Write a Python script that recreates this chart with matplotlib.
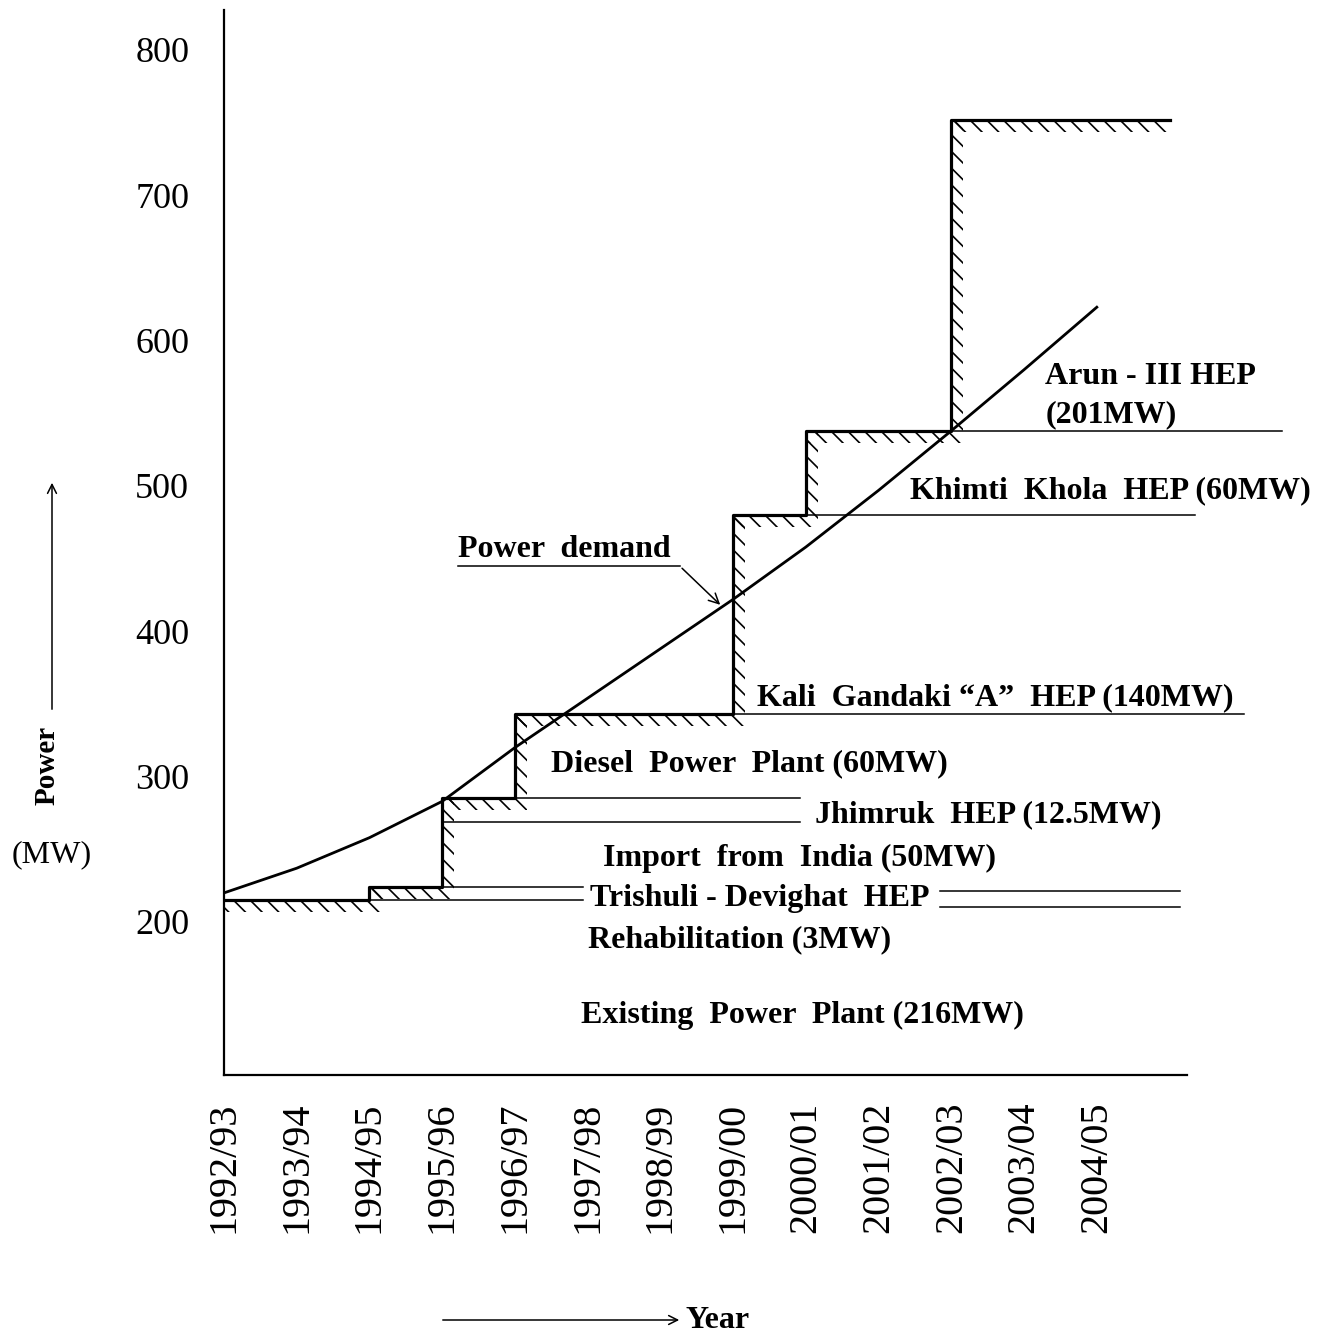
import matplotlib
matplotlib.use("Agg")
import matplotlib.pyplot as plt
import numpy as np

plt.rcParams['font.family'] = ['Liberation Serif', 'DejaVu Serif']
plt.rcParams['hatch.linewidth'] = 1.2

# fiscal years on the x axis
years = ['1992/93', '1993/94', '1994/95', '1995/96', '1996/97', '1997/98', '1998/99',
         '1999/00', '2000/01', '2001/02', '2002/03', '2003/04', '2004/05']

# supply steps: year index where each plant comes in, and total capacity (MW)
step_start = [0, 2, 3, 4, 7, 8, 10]
step_level = [215, 224, 285, 343, 480, 538, 752]
step_end = 13.0

# forecast power demand (MW) for each year
demand = [220, 237, 258, 283, 320, 354, 388, 422, 458, 497, 538, 580, 623]

# thin leader lines running out to the plant labels: (level, from, to)
lead_level = [215, 224, 269, 285, 343, 480, 538, 210, 221]
lead_from = [2, 3, 3, 4, 7, 8, 10, 9.84, 9.84]
lead_to = [4.93, 4.93, 7.92, 7.92, 14.03, 13.35, 14.54, 13.14, 13.14]

yticks = [200, 300, 400, 500, 600, 700, 800]

fig = plt.figure(figsize=(13.42, 13.36), dpi=100)
ax = fig.add_axes([224 / 1342, 261 / 1336, 963 / 1342, 1065 / 1336])
ax.set_xlim(0, 13.24)
ax.set_ylim(94.7, 827.5)

# thick supply step line
xs = step_start + [step_end]
ys = step_level + [step_level[-1]]
ax.step(xs, ys, where='post', color='black', lw=2.3, zorder=3)

# hatching under the steps
dh = 8.3
dx = 0.165
for i, lev in enumerate(step_level):
    x0 = step_start[i]
    x1 = step_start[i + 1] if i + 1 < len(step_start) else step_end
    ext = dx if i + 1 < len(step_start) else 0
    ax.fill_between([x0, x1 + ext], lev - dh, lev, hatch='\\\\', facecolor='none',
                    edgecolor='black', linewidth=0, zorder=2)
    if i > 0:
        ax.fill_betweenx([step_level[i - 1], lev], x0, x0 + dx, hatch='\\\\',
                         facecolor='none', edgecolor='black', linewidth=0, zorder=2)

# leader lines
for lev, a, b in zip(lead_level, lead_from, lead_to):
    ax.plot([a, b], [lev, lev], color='black', lw=1.1, clip_on=False, zorder=2)

# demand curve
ax.plot(range(len(demand)), demand, color='black', lw=2.0, zorder=4)

# labels
lab = dict(fontsize=23, fontweight='bold', ha='left', va='center')
ax.text(11.29, 575, 'Arun - III HEP', **lab)
ax.text(11.29, 549, '(201MW)', **lab)
ax.text(9.43, 497, 'Khimti  Khola  HEP (60MW)', clip_on=False, **lab)
ax.text(7.33, 354, 'Kali  Gandaki \u201cA\u201d  HEP (140MW)', **lab)
ax.text(4.49, 309, 'Diesel  Power  Plant (60MW)', **lab)
ax.text(8.12, 273.6, 'Jhimruk  HEP (12.5MW)', **lab)
ax.text(5.21, 244, 'Import  from  India (50MW)', **lab)
ax.text(5.03, 216, 'Trishuli - Devighat  HEP', **lab)
ax.text(5.00, 187.6, 'Rehabilitation (3MW)', **lab)
ax.text(4.91, 136, 'Existing  Power  Plant (216MW)', **lab)

# power demand callout
ax.text(3.22, 456, 'Power  demand', **lab)
ax.plot([3.22, 6.27], [444.7, 444.7], color='black', lw=1.1)
tx = 6.85
ax.annotate('', xy=(tx, np.interp(tx, range(len(demand)), demand)), xytext=(6.27, 444.7),
            arrowprops=dict(arrowstyle='->', color='black', lw=1.1, mutation_scale=18))

# axes styling
ax.spines[['top', 'right']].set_visible(False)
ax.spines['left'].set_linewidth(1.6)
ax.spines['bottom'].set_linewidth(1.6)
ax.set_yticks(yticks)
ax.set_yticklabels([str(v) for v in yticks], fontsize=26)
ax.set_xticks(range(len(years)))
ax.set_xticklabels(years, rotation=90, fontsize=29)
ax.tick_params(axis='y', length=0, pad=25)
ax.tick_params(axis='x', length=0, pad=19)

# axis titles with arrows
fig.text(47 / 1342, 1 - 765 / 1336, 'Power', rotation=90, fontsize=21, fontweight='bold',
         ha='center', va='center')
fig.text(52 / 1342, 1 - 855 / 1336, '(MW)', fontsize=23, ha='center', va='center')
fig.patches.append(matplotlib.patches.FancyArrowPatch(
    (52 / 1342, 1 - 712 / 1336), (52 / 1342, 1 - 480 / 1336), transform=fig.transFigure,
    arrowstyle='->', mutation_scale=16, lw=1.1, color='black'))
fig.text(686 / 1342, 1 - 1320 / 1336, 'Year', fontsize=23, fontweight='bold',
         ha='left', va='center')
fig.patches.append(matplotlib.patches.FancyArrowPatch(
    (440 / 1342, 1 - 1320 / 1336), (682 / 1342, 1 - 1320 / 1336), transform=fig.transFigure,
    arrowstyle='->', mutation_scale=16, lw=1.1, color='black'))

fig.savefig('out.png', dpi=100)
